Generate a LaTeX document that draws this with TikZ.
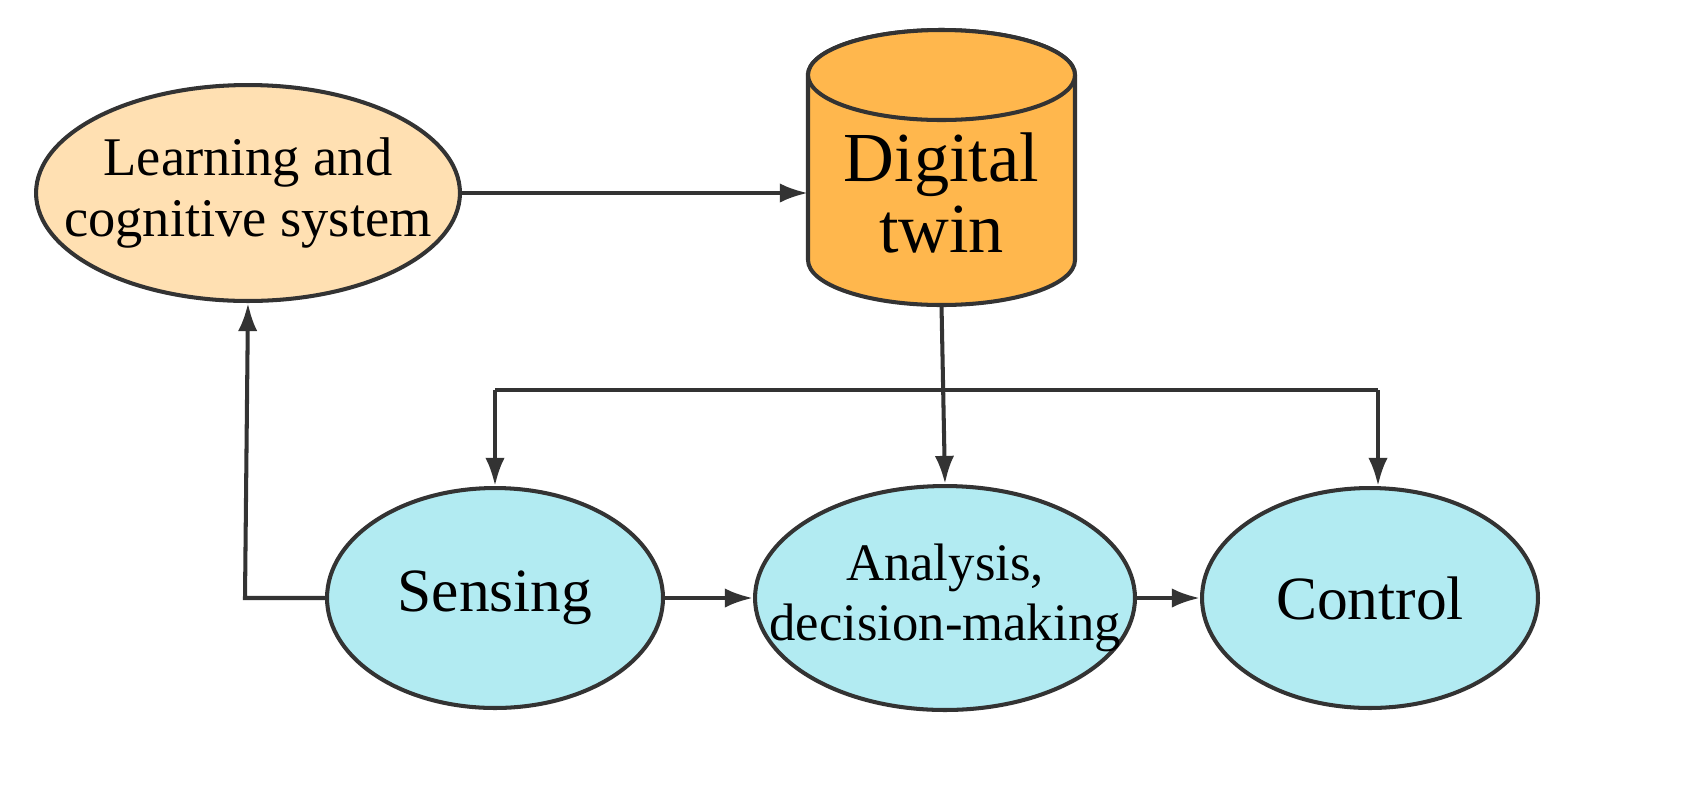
\documentclass[tikz,border=0pt]{standalone}
\usepackage{fontspec}
\setmainfont{Liberation Serif}
\usetikzlibrary{shapes.geometric,arrows.meta}
\definecolor{peach}{HTML}{FFE0B2}
\definecolor{orng}{HTML}{FFB74D}
\definecolor{cyanl}{HTML}{B2EBF2}
\definecolor{ln}{HTML}{333333}
\begin{document}
\begin{tikzpicture}[x=0.02cm,y=-0.02cm,
  el/.style={ellipse,draw=ln,line width=2.3pt,inner xsep=-1cm,inner ysep=-0.4cm,align=center},
  arr/.style={draw=ln,line width=2.3pt,-{Latex[length=16pt,width=11pt]}}]
\useasboundingbox (0,0) rectangle (1703,806);
\node[el,fill=peach,minimum width=8.48cm,minimum height=4.32cm,font=\fontsize{31}{35}\selectfont] (learn) at (248,193) {Learning and\\cognitive system};
\node[el,fill=cyanl,minimum width=6.72cm,minimum height=4.4cm,font=\fontsize{35}{38}\selectfont] (sens) at (495,598) {Sensing};
\node[el,fill=cyanl,minimum width=7.6cm,minimum height=4.48cm,font=\fontsize{30}{34}\selectfont] (anal) at (945,598) {Analysis,\\decision-making};
\node[el,fill=cyanl,minimum width=6.72cm,minimum height=4.4cm,font=\fontsize{35}{38}\selectfont] (ctrl) at (1370,598) {Control};
% cylinder
\filldraw[fill=orng,draw=ln,line width=2.3pt] (808,75) -- (808,260) arc[start angle=180,end angle=0,x radius=133.5,y radius=45] -- (1075,75) arc[start angle=0,end angle=-180,x radius=133.5,y radius=45] -- cycle;
\draw[draw=ln,line width=2.3pt,fill=orng] (941.5,75) ellipse[x radius=133.5,y radius=45];
\node[inner sep=0pt,minimum width=5.34cm,minimum height=4cm,font=\fontsize{40}{40}\selectfont,align=center] (dt) at (941.5,193) {Digital\\twin};
\coordinate (dtb) at (941.5,305);
\coordinate (dtl) at (808,193);
\coordinate (j) at (941.5,390);
\coordinate (js) at (sens.north|-j);
\coordinate (jc) at (1378,390);
\coordinate (sl) at (245,598);
\draw[arr] (learn.east|-dtl) -- (dtl);
\draw[arr] (dtb) -- (anal.north);
\draw[draw=ln,line width=2.3pt] (js) -- (jc);
\draw[arr] (js) -- (sens.north);
\draw[arr] (jc) -- (jc|-ctrl.north);
\draw[arr] (sens.west) -- (sl) -- (learn.south);
\draw[arr] (sens.east) -- (anal.west);
\draw[arr] (anal.east) -- (ctrl.west);
\end{tikzpicture}
\end{document}
